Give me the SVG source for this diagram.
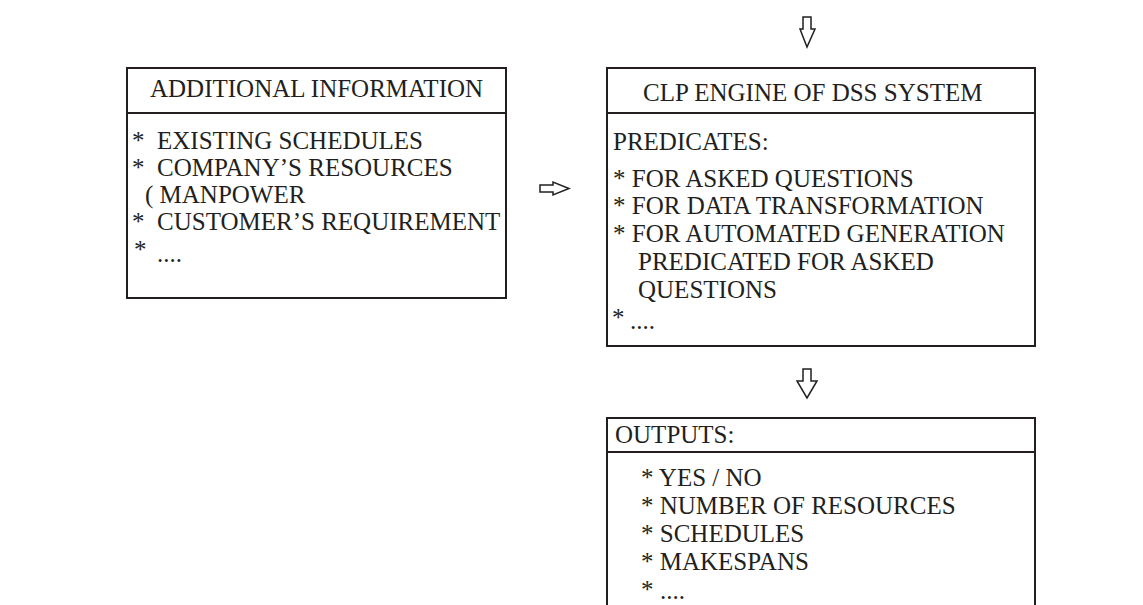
<svg xmlns="http://www.w3.org/2000/svg" width="1143" height="605" viewBox="0 0 1143 605">
<style>
.box{fill:#fff;stroke:#231f20;stroke-width:2}
.div{stroke:#231f20;stroke-width:2}
.t{font-family:"Liberation Serif","Times New Roman",serif;font-size:25px;fill:#231f20}
.arr{fill:#fff;stroke:#231f20;stroke-width:1.5;stroke-linejoin:miter}
</style>
<rect width="1143" height="605" fill="#fff"/>
<g id="connectors">
<path class="arr" d="M803,17 H811 V29 H815 L807,47 L800,29 H803 Z"/>
<path class="arr" d="M540,185 H553 V182 L569,188.5 L553,195 V192 H540 Z"/>
<path class="arr" d="M803,369 H811 V381 H817 L807,398 L797,381 H803 Z"/>
</g>
<g id="additional-information">
<rect class="box" x="127" y="68" width="379" height="230"/>
<line class="div" x1="127" y1="113" x2="506" y2="113"/>
<text class="t" x="150" y="97">ADDITIONAL INFORMATION</text>
<text class="t" x="132" y="149">* <tspan x="157">EXISTING SCHEDULES</tspan></text>
<text class="t" x="132" y="176">* <tspan x="157">COMPANY’S RESOURCES</tspan></text>
<text class="t" x="145" y="203">( MANPOWER</text>
<text class="t" x="132" y="230">* <tspan x="157">CUSTOMER’S REQUIREMENT</tspan></text>
<text class="t" x="134" y="258">*</text>
<text class="t" x="157" y="262">....</text>
</g>
<g id="clp-engine">
<rect class="box" x="607" y="68" width="428" height="278"/>
<line class="div" x1="607" y1="113" x2="1035" y2="113"/>
<text class="t" x="643" y="101">CLP ENGINE OF DSS SYSTEM</text>
<text class="t" x="613" y="150">PREDICATES:</text>
<text class="t" x="613" y="187">* FOR ASKED QUESTIONS</text>
<text class="t" x="613" y="214">* FOR DATA TRANSFORMATION</text>
<text class="t" x="613" y="242">* FOR AUTOMATED GENERATION</text>
<text class="t" x="638" y="270">PREDICATED FOR ASKED</text>
<text class="t" x="638" y="298">QUESTIONS</text>
<text class="t" x="612" y="326">*</text>
<text class="t" x="630" y="329">....</text>
</g>
<g id="outputs">
<rect class="box" x="607" y="418" width="428" height="200"/>
<line class="div" x1="607" y1="452" x2="1035" y2="452"/>
<text class="t" x="615" y="443">OUTPUTS:</text>
<text class="t" x="641" y="486">* YES / NO</text>
<text class="t" x="641" y="514">* NUMBER OF RESOURCES</text>
<text class="t" x="641" y="542">* SCHEDULES</text>
<text class="t" x="641" y="570">* MAKESPANS</text>
<text class="t" x="641" y="598">*</text>
<text class="t" x="660" y="599">....</text>
</g>
</svg>
